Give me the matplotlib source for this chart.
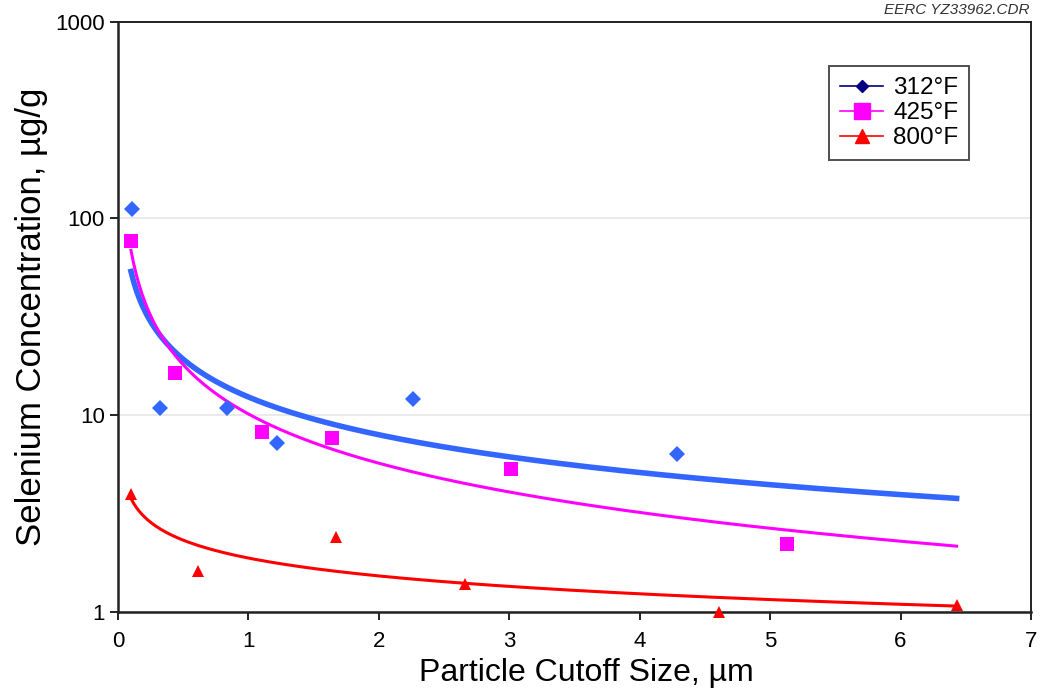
import numpy as np
import matplotlib
matplotlib.use("Agg")
from matplotlib import pyplot as plt
from matplotlib.lines import Line2D

plt.rcParams['font.family'] = ['Liberation Sans', 'DejaVu Sans']

# 312°F
x_312 = [0.105, 0.32, 0.836, 1.217, 2.265, 4.29]
y_312 = [111, 10.9, 10.9, 7.18, 12.0, 6.31]
# 425°F
x_425 = [0.10, 0.435, 1.107, 1.64, 3.014, 5.13]
y_425 = [76.7, 16.3, 8.23, 7.61, 5.30, 2.20]
# 800°F
x_800 = [0.10, 0.61, 1.67, 2.663, 4.61, 6.43]
y_800 = [3.97, 1.61, 2.40, 1.39, 1.0, 1.085]

labels = ['312°F', '425°F', '800°F']


def power_fit(x, y):
    # power trendline, same as excel: fit in log-log
    b, loga = np.polyfit(np.log10(x), np.log10(y), 1)
    return 10 ** loga, b


fig = plt.figure(figsize=(10.42, 6.98), dpi=100)
ax = fig.add_axes([0.1132, 0.1236, 0.8762, 0.8454])

xs_all = x_312 + x_425 + x_800
xfit = np.linspace(min(xs_all), max(xs_all), 300)

series = [
    (x_312, y_312, '#3366ff', 'D', 8, 4.0),
    (x_425, y_425, '#ff00ff', 's', 10.5, 2.2),
    (x_800, y_800, '#ff0000', '^', 8, 2.2),
]
for x, y, col, mk, ms, lw in series:
    a, b = power_fit(x, y)
    ax.plot(xfit, a * xfit ** b, color=col, lw=lw, zorder=2)
    ax.plot(x, y, linestyle='none', marker=mk, ms=ms, color=col,
            markeredgewidth=0, zorder=3, clip_on=False)

ax.set_yscale('log')
ax.set_xlim(0, 7)
ax.set_ylim(1, 1000)
ax.set_yticks([1, 10, 100, 1000])
ax.set_yticklabels(['1', '10', '100', '1000'])
ax.yaxis.set_minor_locator(matplotlib.ticker.NullLocator())
ax.set_xticks(range(0, 8))
ax.grid(axis='y', which='major', color='#e6e6e6', lw=1.2, zorder=0)
ax.set_axisbelow(True)

for side in ['left', 'bottom']:
    ax.spines[side].set_linewidth(1.8)
    ax.spines[side].set_color('#222222')
for side in ['top', 'right']:
    ax.spines[side].set_linewidth(1.4)
    ax.spines[side].set_color('#222222')

ax.tick_params(axis='both', direction='out', length=6, width=1.4,
               color='#222222', labelsize=16)
ax.tick_params(axis='x', pad=8)

ax.set_xlabel('Particle Cutoff Size, µm', fontsize=23)
ax.xaxis.set_label_coords(0.5135, -0.079)
ax.set_ylabel('Selenium Concentration, µg/g', fontsize=25, labelpad=5)

handles = [
    Line2D([], [], color='#000080', lw=1.2, marker='D', ms=6),
    Line2D([], [], color='#ff00ff', lw=1.2, marker='s', ms=11),
    Line2D([], [], color='#ff0000', lw=1.2, marker='^', ms=10),
]
leg = ax.legend(handles, labels, loc='upper left',
                bbox_to_anchor=(0.7785, 0.924), fontsize=17.5, frameon=True,
                fancybox=False, edgecolor='#222222', handlelength=1.8,
                handletextpad=0.4, labelspacing=0.12, borderpad=0.45,
                borderaxespad=0)
leg.get_frame().set_linewidth(1.4)

fig.text(0.988, 0.976, 'EERC YZ33962.CDR', ha='right', va='bottom',
         fontsize=11, style='italic', color='#333333')

fig.savefig('out.png', dpi=100)
